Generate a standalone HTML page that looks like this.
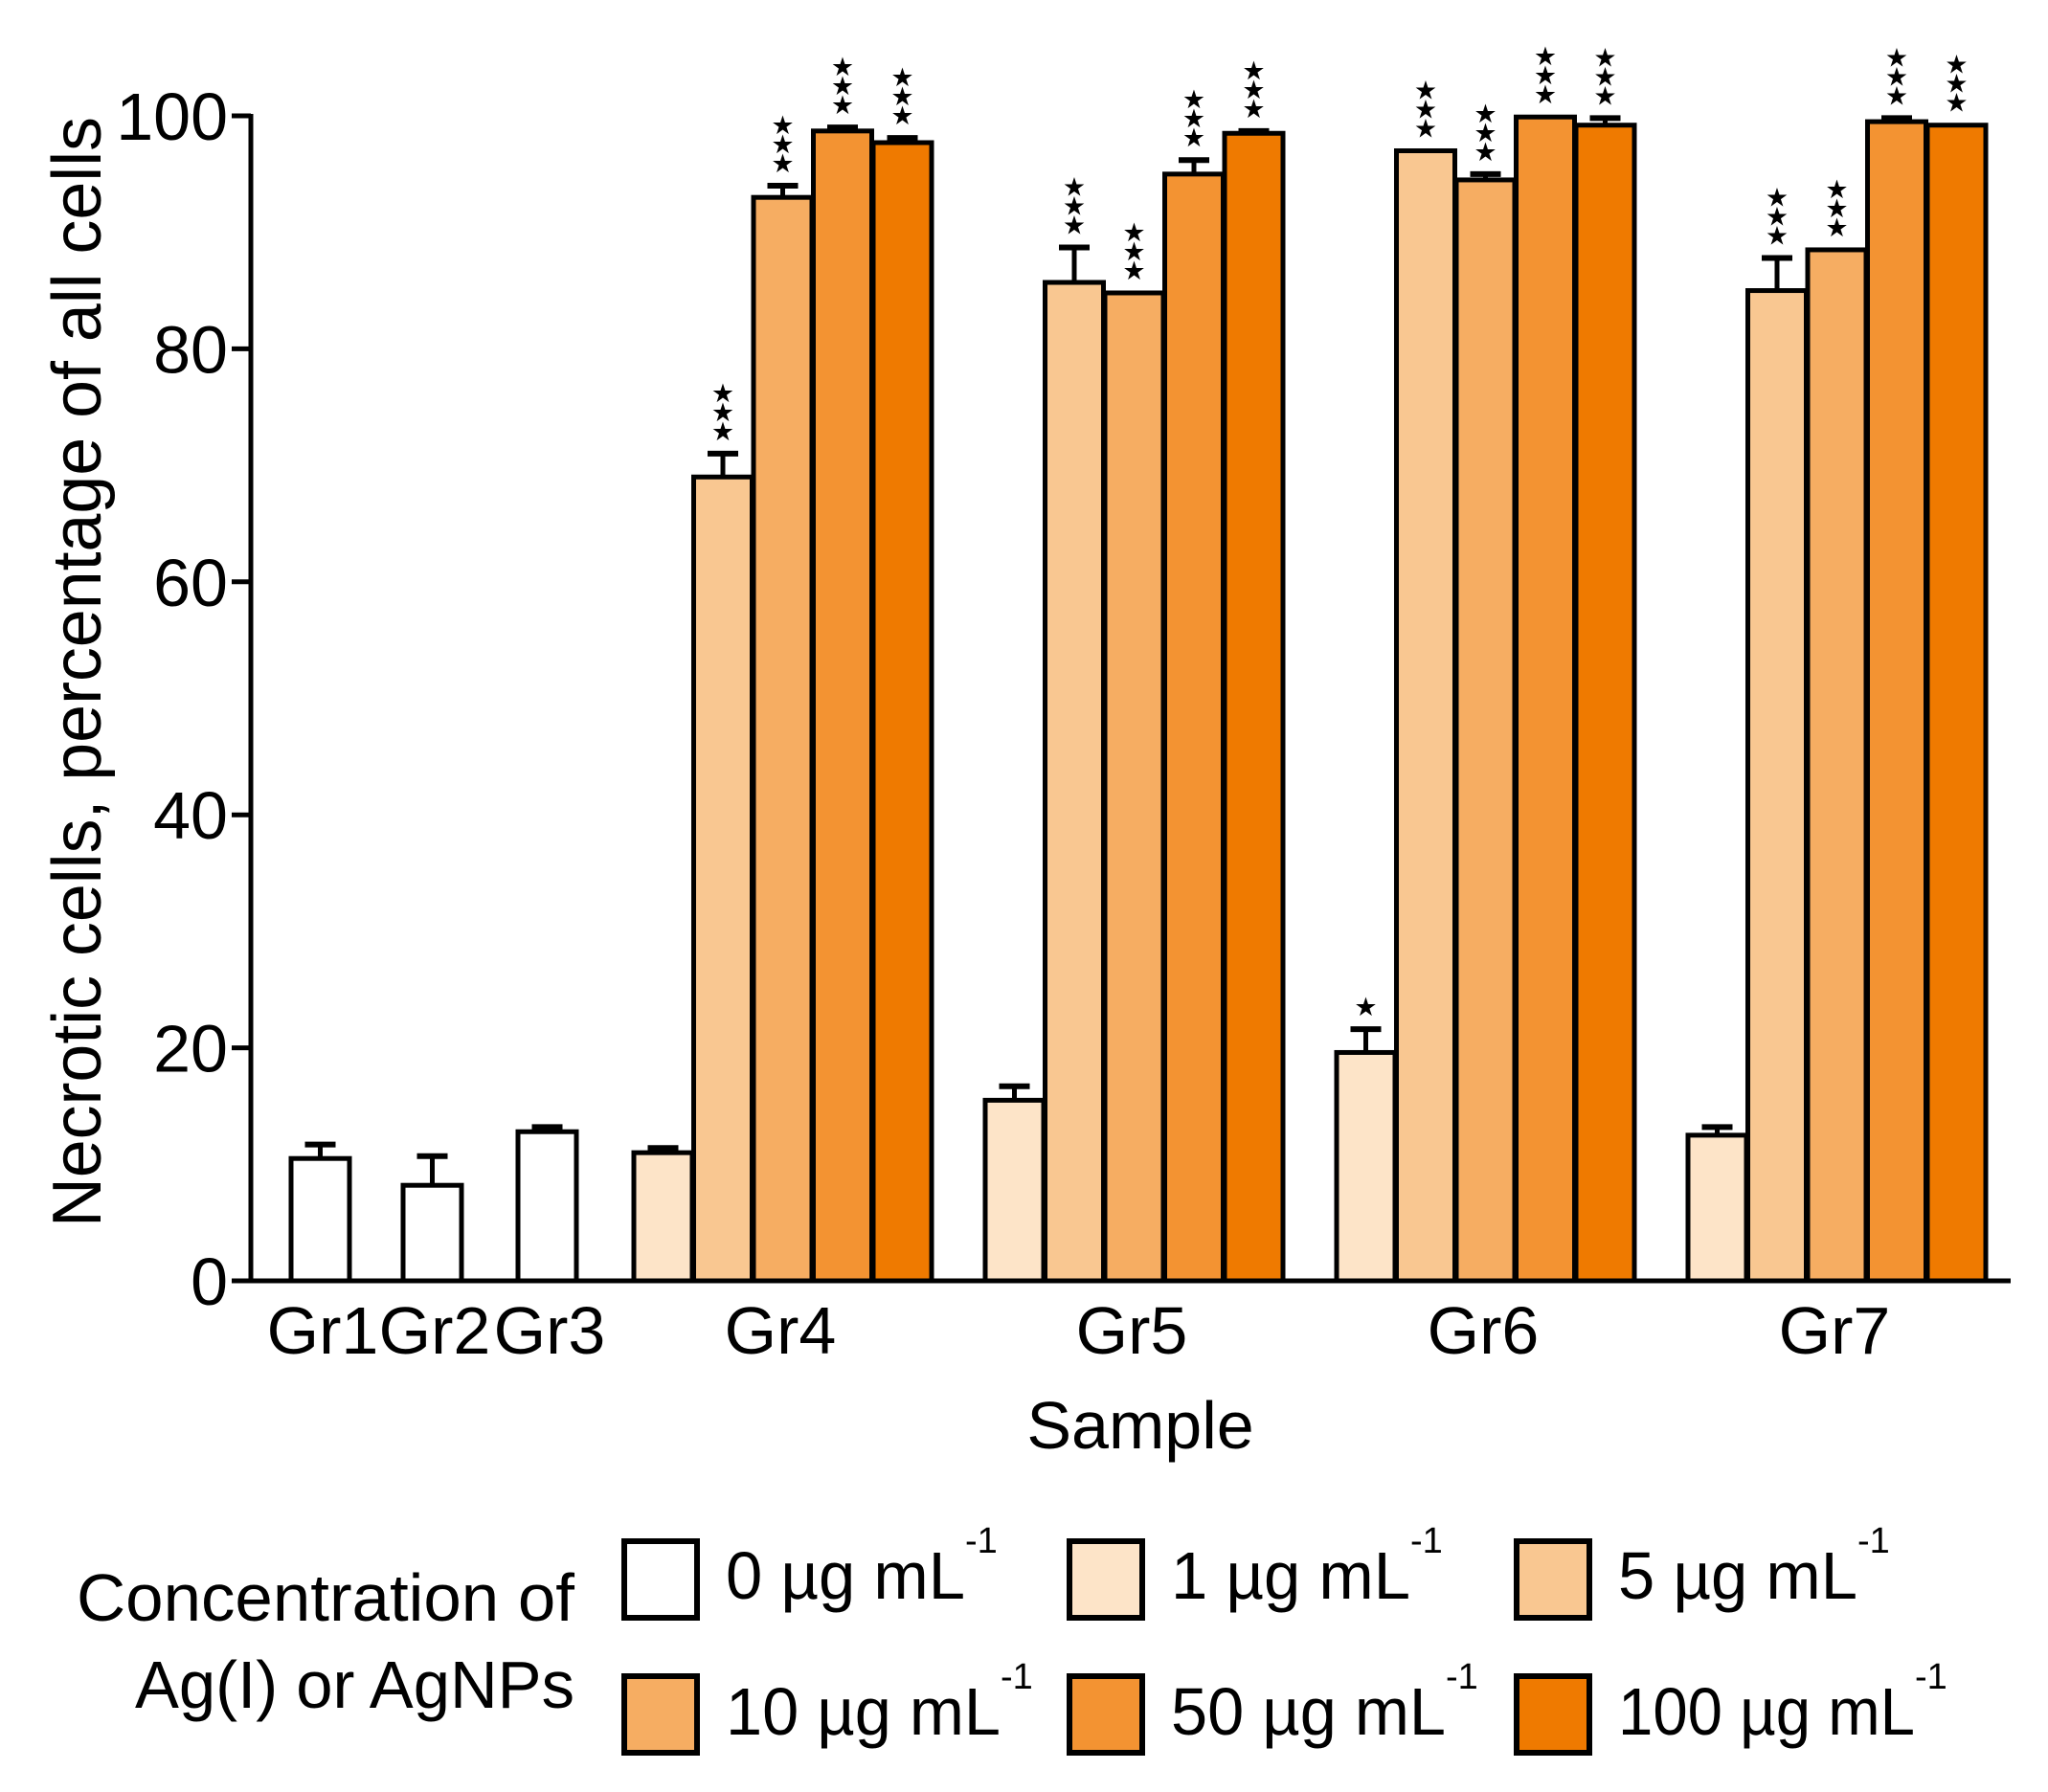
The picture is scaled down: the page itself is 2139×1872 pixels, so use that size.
<!DOCTYPE html>
<html><head><meta charset="utf-8"><style>
html,body{margin:0;padding:0;background:#fff}
svg{display:block}
text{font-family:"Liberation Sans",Arial,sans-serif;fill:#000}
</style></head><body>
<svg id="chart" width="2139" height="1872" viewBox="0 0 2139 1872" xmlns="http://www.w3.org/2000/svg">
<g id="plot"></g>
<g id="legend"></g>
</svg>
<script>
const groups = ["Gr1","Gr2","Gr3","Gr4","Gr5","Gr6","Gr7"];
const concLabels = ["0","1","5","10","50","100"];
const yTicks = [0,20,40,60,80,100];
// controls: 0 µg mL-1
const ctrlValues = [10.5, 8.2, 12.8];
const ctrlErrors = [1.2, 2.5, 0.4];
// Gr4..Gr7, concentrations 1,5,10,50,100
const gr4Values = [11.0, 69.0, 93.0, 98.7, 97.7];
const gr4Errors = [0.4, 2.0, 1.0, 0.3, 0.4];
const gr5Values = [15.5, 85.7, 84.8, 95.0, 98.5];
const gr5Errors = [1.2, 3.0, 0.0, 1.2, 0.2];
const gr6Values = [19.6, 97.0, 94.5, 99.9, 99.2];
const gr6Errors = [2.0, 0.0, 0.5, 0.0, 0.6];
const gr7Values = [12.5, 85.0, 88.5, 99.5, 99.2];
const gr7Errors = [0.7, 2.8, 0.0, 0.3, 0.0];
const gr4Stars = [0,3,3,3,3];
const gr5Stars = [0,3,3,3,3];
const gr6Stars = [1,3,3,3,3];
const gr7Stars = [0,3,3,3,3];

const NS="http://www.w3.org/2000/svg";
const colors={"0":"#ffffff","1":"#fde4c8","5":"#f9c791","10":"#f6ad62","50":"#f39332","100":"#ef7a00"};
const Y0=1338, Y100=121, AX=262, AXR=2100;
function y(v){return Y0-(Y0-Y100)*v/100;}
function el(tag,attrs,parent){const e=document.createElementNS(NS,tag);for(const k in attrs)e.setAttribute(k,attrs[k]);parent.appendChild(e);return e;}
const plot=document.getElementById('plot');
const legend=document.getElementById('legend');

let a=el('line',{x1:AX,y1:Y100-2,x2:AX,y2:Y0+2,stroke:'#000','stroke-width':5},plot);


a=el('line',{x1:AX-2,y1:Y0,x2:AXR,y2:Y0,stroke:'#000','stroke-width':5},plot);


yTicks.forEach(t=>{
  const l=el('line',{x1:AX-20,y1:y(t),x2:AX,y2:y(t),stroke:'#000','stroke-width':5},plot);
  
  
  const tx=el('text',{x:AX-24,y:y(t)+25,'text-anchor':'end','font-size':70},plot);
  tx.textContent=t;
  
  
});
let yt=el('text',{x:0,y:0,'font-size':72,'text-anchor':'middle',transform:'translate(105,702) rotate(-90)',textLength:1160,lengthAdjust:'spacingAndGlyphs'},plot);
yt.textContent='Necrotic cells, percentage of all cells';



const BW=61;
function bar(x,v,e,c,stars,name){
  const top=y(v);
  if(e>0){
    const ey=y(v+e);
    const l1=el('line',{x1:x+BW/2,y1:top,x2:x+BW/2,y2:ey,stroke:'#000','stroke-width':5},plot);
    
    
    const l2=el('line',{x1:x+BW/2-16,y1:ey,x2:x+BW/2+16,y2:ey,stroke:'#000','stroke-width':6},plot);
    
    
  }
  const r=el('rect',{x:x,y:top,width:BW,height:Y0-top,fill:colors[c],stroke:'#000','stroke-width':5},plot);
  
  
  const sy=y(v+e)-14;
  for(let i=0;i<stars;i++){
    const s=el('text',{x:x+BW/2,y:sy-i*20,'text-anchor':'middle','font-size':27,'font-family':'DejaVu Sans'},plot);
    s.textContent='★';
    
    
  }
}
const ctrlX=[304,421,541];
ctrlValues.forEach((v,i)=>bar(ctrlX[i],v,ctrlErrors[i],"0",0,'bar-'+groups[i].toLowerCase()));
const gv=[gr4Values,gr5Values,gr6Values,gr7Values], ge=[gr4Errors,gr5Errors,gr6Errors,gr7Errors], gs=[gr4Stars,gr5Stars,gr6Stars,gr7Stars];
const gConc=["1","5","10","50","100"];
for(let g=0;g<4;g++){
  const gx=662+g*367;
  gv[g].forEach((v,i)=>bar(gx+i*62.5,v,ge[g][i],gConc[i],gs[g][i],'bar-'+groups[g+3].toLowerCase()+'-'+gConc[i]));
}
const labX=[337,454,574,815,1182,1549,1916];
groups.forEach((gname,i)=>{
  const t=el('text',{x:labX[i],y:1414,'text-anchor':'middle','font-size':70},plot);
  t.textContent=gname;
  
  
});
let xt=el('text',{x:1191,y:1513,'text-anchor':'middle','font-size':70},plot);
xt.textContent='Sample';



let lt=el('text',{x:600,y:1693,'text-anchor':'end','font-size':70,textLength:520,lengthAdjust:'spacingAndGlyphs'},legend);
lt.textContent='Concentration of';


lt=el('text',{x:600,y:1784,'text-anchor':'end','font-size':70,textLength:459,lengthAdjust:'spacingAndGlyphs'},legend);
lt.textContent='Ag(I) or AgNPs';


const lbx=[652,1117,1584], lby=[1610,1751], lbase=[1670,1812];
concLabels.forEach((c,i)=>{
  const col=i%3,row=Math.floor(i/3);
  const g=el('g',{},legend);
  
  
  el('rect',{x:lbx[col],y:lby[row],width:76,height:80,fill:colors[c],stroke:'#000','stroke-width':6},g);
  const w=c.length===1?250:c.length===2?287:310;
  const t=el('text',{x:lbx[col]+106,y:lbase[row],'font-size':70,textLength:w,lengthAdjust:'spacingAndGlyphs'},g);
  t.textContent=c+' µg mL';
  const s=el('text',{x:lbx[col]+106+w,y:lbase[row]-48,'font-size':38},g);
  s.textContent='-1';
});
</script>
</body></html>
